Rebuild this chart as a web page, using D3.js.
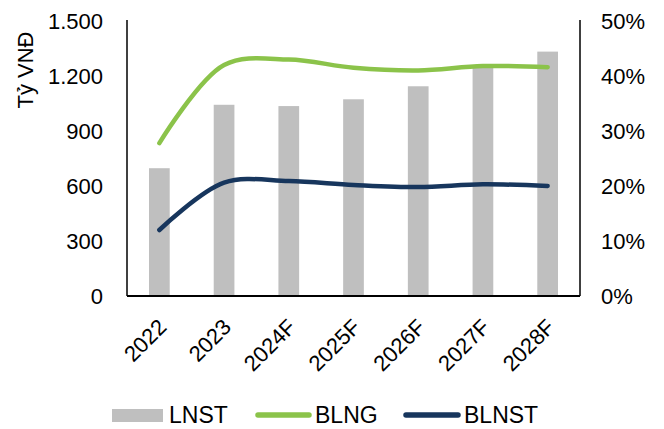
<!DOCTYPE html>
<html>
<head>
<meta charset="utf-8">
<script src="https://cdn.jsdelivr.net/npm/d3@7"></script>
<style>
  html, body { margin: 0; padding: 0; background: #fff; overflow: hidden; }
  svg { display: block; font-family: Arial, "Liberation Sans", sans-serif; }
</style>
</head>
<body>
<svg id="chart" width="664" height="429"></svg>
<script>
// Categories and series
const years = ["2022", "2023", "2024F", "2025F", "2026F", "2027F", "2028F"];
const lnst = [697, 1043, 1036, 1073, 1144, 1248, 1333];        // Tỷ VNĐ
const blng = [0.278, 0.420, 0.430, 0.415, 0.410, 0.418, 0.416]; // gross margin
const blnst = [0.120, 0.206, 0.209, 0.202, 0.198, 0.203, 0.200]; // net margin
const leftTicks = [0, 300, 600, 900, 1200, 1500];
const rightTicks = [0, 0.1, 0.2, 0.3, 0.4, 0.5];

const C_BAR = "#BFBFBF", C_BLNG = "#8BC34A", C_BLNST = "#17365D";
const FONT = "Arial, 'Liberation Sans', sans-serif";

const svg = d3.select("#chart");
const m = { left: 127, right: 580, top: 21, bottom: 296 };

const x = d3.scaleBand().domain(years).range([m.left, m.right]).paddingInner(0).paddingOuter(0);
const yL = d3.scaleLinear().domain([0, 1500]).range([m.bottom, m.top]);
const yR = d3.scaleLinear().domain([0, 0.5]).range([m.bottom, m.top]);

const barW = x.bandwidth() * 0.32;

// Bars
svg.append("g").selectAll("rect").data(years).join("rect")
  .attr("x", d => x(d) + x.bandwidth() / 2 - barW / 2)
  .attr("y", (d, i) => yL(lnst[i]))
  .attr("width", barW)
  .attr("height", (d, i) => yL(0) - yL(lnst[i]))
  .attr("fill", C_BAR);

// Smoothed margin lines
const line = d3.line()
  .x((d, i) => x(years[i]) + x.bandwidth() / 2)
  .y(d => yR(d))
  .curve(d3.curveCatmullRom.alpha(0.5));

svg.append("path").datum(blng).attr("d", line)
  .attr("fill", "none").attr("stroke", C_BLNG).attr("stroke-width", 4.5).attr("stroke-linecap", "round");
svg.append("path").datum(blnst).attr("d", line)
  .attr("fill", "none").attr("stroke", C_BLNST).attr("stroke-width", 4.5).attr("stroke-linecap", "round");

// Axes
const fs = 22;
const axL = d3.axisLeft(yL).tickValues(leftTicks).tickSize(0).tickPadding(24)
  .tickFormat(d => d3.format(",")(d).replace(/,/g, "."));
const gL = svg.append("g").attr("transform", `translate(${m.left},0)`).call(axL);
gL.select(".domain").remove();
gL.selectAll("text").attr("font-size", fs).attr("fill", "#000").attr("font-family", FONT);

const axR = d3.axisRight(yR).tickValues(rightTicks).tickSize(0).tickPadding(21)
  .tickFormat(d3.format(".0%"));
const gR = svg.append("g").attr("transform", `translate(${m.right},0)`).call(axR);
gR.select(".domain").remove();
gR.selectAll("text").attr("font-size", fs).attr("fill", "#000").attr("font-family", FONT);

const axB = d3.axisBottom(x).tickSize(0).tickPadding(0);
const gB = svg.append("g").attr("transform", `translate(0,${m.bottom})`).call(axB);
gB.select(".domain").remove();
gB.selectAll("text")
  .attr("font-size", fs).attr("fill", "#000").attr("font-family", FONT)
  .attr("text-anchor", "end")
  .attr("dy", "0.35em")
  .attr("transform", "translate(3,27) rotate(-45)");

// Frame lines: left, right and baseline
svg.append("line").attr("x1", m.left).attr("x2", m.left).attr("y1", 20).attr("y2", m.bottom)
  .attr("stroke", "#000").attr("stroke-width", 1.5);
svg.append("line").attr("x1", m.right).attr("x2", m.right).attr("y1", 20).attr("y2", m.bottom)
  .attr("stroke", "#000").attr("stroke-width", 1.5);
svg.append("line").attr("x1", m.left).attr("x2", m.right).attr("y1", m.bottom).attr("y2", m.bottom)
  .attr("stroke", "#000").attr("stroke-width", 2);

// Y-axis title
svg.append("text")
  .attr("transform", "translate(33,70) rotate(-90)")
  .attr("text-anchor", "middle")
  .attr("font-size", fs).attr("fill", "#000").attr("font-family", FONT)
  .text("Tỷ VNĐ");

// Legend
const ly = 415;
const lg = svg.append("g").attr("font-size", 23).attr("fill", "#000").attr("font-family", FONT);
lg.append("rect").attr("x", 112).attr("y", ly - 6).attr("width", 51).attr("height", 13).attr("fill", C_BAR);
lg.append("text").attr("x", 169).attr("y", ly).attr("dy", "0.35em").text("LNST");
lg.append("line").attr("x1", 258).attr("x2", 309).attr("y1", ly).attr("y2", ly)
  .attr("stroke", C_BLNG).attr("stroke-width", 5.5).attr("stroke-linecap", "round");
lg.append("text").attr("x", 315).attr("y", ly).attr("dy", "0.35em").text("BLNG");
lg.append("line").attr("x1", 406).attr("x2", 458).attr("y1", ly).attr("y2", ly)
  .attr("stroke", C_BLNST).attr("stroke-width", 5.5).attr("stroke-linecap", "round");
lg.append("text").attr("x", 464).attr("y", ly).attr("dy", "0.35em").text("BLNST");
</script>
</body>
</html>
